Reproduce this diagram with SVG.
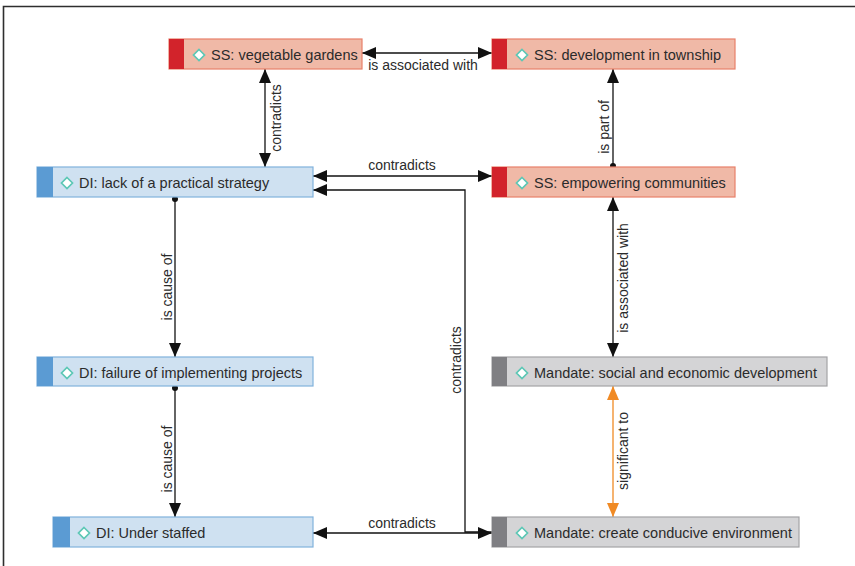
<svg xmlns="http://www.w3.org/2000/svg" width="855" height="566" viewBox="0 0 855 566">
  <style>
    .ss rect.body { fill: #f0b9a7; stroke: #e8806a; stroke-width: 1.2; }
    .ss rect.strip { fill: #d2232b; }
    .di rect.body { fill: #cfe1f1; stroke: #80b2dd; stroke-width: 1.2; }
    .di rect.strip { fill: #5b9bd3; }
    .md rect.body { fill: #d4d4d6; stroke: #a3a3a6; stroke-width: 1.2; }
    .md rect.strip { fill: #7f7f83; }
    .icon { fill: #ffffff; stroke: #5cc7b5; stroke-width: 1.7; }
    .ntext { font-family: "Liberation Sans", Arial, sans-serif; font-size: 14.5px; fill: #2b2b2b; }
    .ltext { font-family: "Liberation Sans", Arial, sans-serif; font-size: 14px; fill: #2b2b2b; }
    .edge { fill: none; stroke: #111111; stroke-width: 1.3; }
    .edge.orange { stroke: #f08a24; }
  </style>
  <defs>
    <marker id="arrow" viewBox="0 0 14 12" refX="14" refY="6" markerWidth="14" markerHeight="12" markerUnits="userSpaceOnUse" orient="auto-start-reverse">
      <path d="M0,0 L14,6 L0,12 Z" fill="#111111"/>
    </marker>
    <marker id="arrowOrange" viewBox="0 0 14 12" refX="14" refY="6" markerWidth="14" markerHeight="12" markerUnits="userSpaceOnUse" orient="auto-start-reverse">
      <path d="M0,0 L14,6 L0,12 Z" fill="#f08a24"/>
    </marker>
    <marker id="dot" viewBox="0 0 8 8" refX="4" refY="4" markerWidth="6" markerHeight="6" markerUnits="userSpaceOnUse">
      <circle cx="4" cy="4" r="4" fill="#111111"/>
    </marker>
    <path id="diamond" d="M0,-5.5 L5.5,0 L0,5.5 L-5.5,0 Z"/>
  </defs>

  <rect width="855" height="566" fill="#ffffff"/>
  <!-- outer frame -->
  <path d="M3.5,566 V6.5 H855" fill="none" stroke="#2e2e2e" stroke-width="1.6"/>

  <g id="connectors">
    <!-- vegetable gardens <-> development in township -->
    <path class="edge" d="M362,53 H492" marker-start="url(#arrow)" marker-end="url(#arrow)"/>
    <text class="ltext" x="423" y="70" text-anchor="middle">is associated with</text>
    <!-- vegetable gardens <-> lack of a practical strategy -->
    <path class="edge" d="M265,69 V167" marker-start="url(#arrow)" marker-end="url(#arrow)"/>
    <text class="ltext" transform="translate(281,118) rotate(-90)" text-anchor="middle">contradicts</text>
    <!-- empowering communities -> development in township -->
    <path class="edge" d="M613,166 V69" marker-start="url(#dot)" marker-end="url(#arrow)"/>
    <text class="ltext" transform="translate(609,127) rotate(-90)" text-anchor="middle">is part of</text>
    <!-- lack of a practical strategy <-> empowering communities -->
    <path class="edge" d="M313,176 H492" marker-start="url(#arrow)" marker-end="url(#arrow)"/>
    <text class="ltext" x="402" y="170" text-anchor="middle">contradicts</text>
    <!-- lack of a practical strategy -> failure of implementing projects -->
    <path class="edge" d="M175,199 V357" marker-start="url(#dot)" marker-end="url(#arrow)"/>
    <text class="ltext" transform="translate(172,287) rotate(-90)" text-anchor="middle">is cause of</text>
    <!-- failure of implementing projects -> under staffed -->
    <path class="edge" d="M175,388 V517" marker-start="url(#dot)" marker-end="url(#arrow)"/>
    <text class="ltext" transform="translate(172,459) rotate(-90)" text-anchor="middle">is cause of</text>
    <!-- empowering communities <-> social and economic development -->
    <path class="edge" d="M613,197 V357" marker-start="url(#arrow)" marker-end="url(#arrow)"/>
    <text class="ltext" transform="translate(628,278) rotate(-90)" text-anchor="middle">is associated with</text>
    <!-- social and economic development <-> create conducive environment -->
    <path class="edge orange" d="M613,386 V517" marker-start="url(#arrowOrange)" marker-end="url(#arrowOrange)"/>
    <text class="ltext" transform="translate(628,451) rotate(-90)" text-anchor="middle">significant to</text>
    <!-- under staffed <-> create conducive environment -->
    <path class="edge" d="M313,533 H492" marker-start="url(#arrow)" marker-end="url(#arrow)"/>
    <text class="ltext" x="402" y="528" text-anchor="middle">contradicts</text>
    <!-- create conducive environment -> lack of a practical strategy -->
    <path class="edge" d="M492,532 H465 V190 H313" marker-end="url(#arrow)"/>
    <text class="ltext" transform="translate(461,360) rotate(-90)" text-anchor="middle">contradicts</text>
  </g>

  <g id="node-vegetable-gardens" class="ss">
    <rect class="body" x="169" y="39" width="193" height="30"/>
    <rect class="strip" x="169" y="39" width="15" height="30"/>
    <use href="#diamond" class="icon" x="199" y="55"/>
    <text class="ntext" x="211" y="60">SS: vegetable gardens</text>
  </g>

  <g id="node-development-in-township" class="ss">
    <rect class="body" x="492" y="39" width="243" height="30"/>
    <rect class="strip" x="492" y="39" width="15" height="30"/>
    <use href="#diamond" class="icon" x="522" y="55"/>
    <text class="ntext" x="534" y="60">SS: development in township</text>
  </g>

  <g id="node-lack-of-strategy" class="di">
    <rect class="body" x="37" y="167" width="276" height="30"/>
    <rect class="strip" x="37" y="167" width="16" height="30"/>
    <use href="#diamond" class="icon" x="67" y="183"/>
    <text class="ntext" x="79" y="188">DI: lack of a practical strategy</text>
  </g>

  <g id="node-empowering-communities" class="ss">
    <rect class="body" x="492" y="167" width="243" height="30"/>
    <rect class="strip" x="492" y="167" width="15" height="30"/>
    <use href="#diamond" class="icon" x="522" y="183"/>
    <text class="ntext" x="534" y="188">SS: empowering communities</text>
  </g>

  <g id="node-failure-implementing" class="di">
    <rect class="body" x="37" y="357" width="276" height="29"/>
    <rect class="strip" x="37" y="357" width="16" height="29"/>
    <use href="#diamond" class="icon" x="67" y="373"/>
    <text class="ntext" x="79" y="378">DI: failure of implementing projects</text>
  </g>

  <g id="node-social-economic" class="md">
    <rect class="body" x="492" y="357" width="335" height="29"/>
    <rect class="strip" x="492" y="357" width="15" height="29"/>
    <use href="#diamond" class="icon" x="522" y="373"/>
    <text class="ntext" x="534" y="378">Mandate: social and economic development</text>
  </g>

  <g id="node-under-staffed" class="di">
    <rect class="body" x="53" y="517" width="260" height="30"/>
    <rect class="strip" x="53" y="517" width="17" height="30"/>
    <use href="#diamond" class="icon" x="84" y="533"/>
    <text class="ntext" x="96" y="538">DI: Under staffed</text>
  </g>

  <g id="node-create-conducive" class="md">
    <rect class="body" x="492" y="517" width="307" height="30"/>
    <rect class="strip" x="492" y="517" width="15" height="30"/>
    <use href="#diamond" class="icon" x="522" y="533"/>
    <text class="ntext" x="534" y="538">Mandate: create conducive environment</text>
  </g>
</svg>
